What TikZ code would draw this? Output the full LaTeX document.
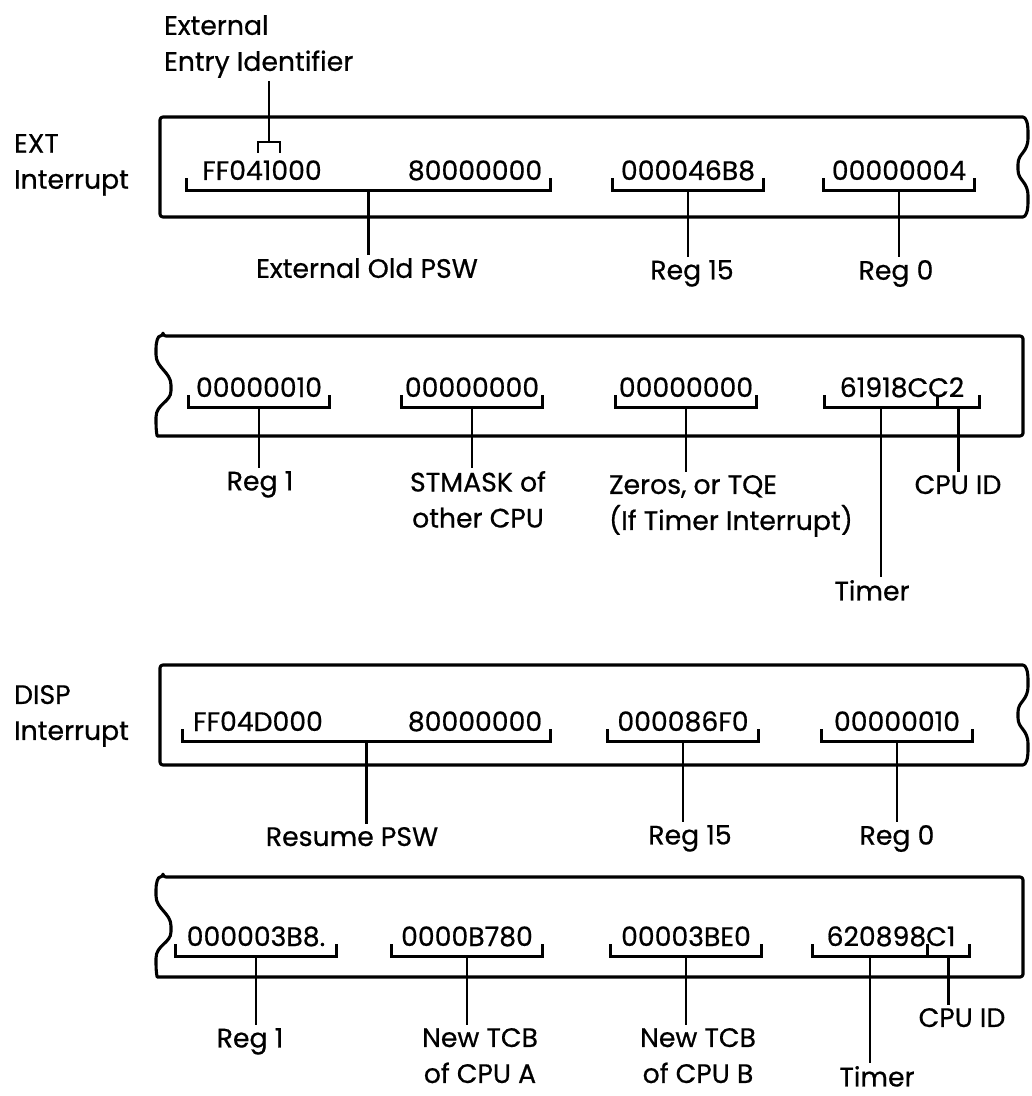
\documentclass[tikz,border=0pt]{standalone}
\usepackage{fontspec}
\setmainfont{Poppins}[FakeBold=0.6]
\usetikzlibrary{positioning, calc}
\tikzset{
	frame/.style={line width=2.2pt, line join=round, rounded corners=2pt},
	hexval/.style={anchor=base, minimum width=3.75cm, inner xsep=0pt, inner ysep=0.25cm, text depth=0pt},
	brkline/.style={line width=2pt},
	stemline/.style={line width=1.9pt},
	lbl/.style={inner sep=2pt, anchor=north, align=center},
}
% bracket under a value node
\newcommand{\valbrk}[1]{\draw[brkline] (#1.south west) ++(0,-12) -- (#1.south west) -- (#1.south east) -- ++(0,-12);}

\begin{document}
\begin{tikzpicture}[x=0.025cm, y=-0.025cm, every node/.style={font=\fontsize{19}{25.6}\selectfont}]
	\useasboundingbox (0,0) rectangle (1031,1096);

	% records torn on the right
	\foreach \t in {117,665}
		\draw[frame] (160,\t) -- (1020,\t) .. controls (1026,\t) and (1028,\t+6) .. (1028,\t+18)
			.. controls (1028,\t+36) and (1018,\t+36) .. (1018,\t+50)
			.. controls (1018,\t+64) and (1028,\t+64) .. (1028,\t+82)
			.. controls (1028,\t+94) and (1026,\t+100) .. (1020,\t+100) -- (160,\t+100) -- cycle;
	% records torn on the left
	\foreach \t in {336,877}
		\draw[frame] (163,\t) -- (1023,\t) -- (1023,\t+100) -- (160,\t+100)
			.. controls (157,\t+100) and (156,\t+94) .. (156,\t+84)
			.. controls (156,\t+68) and (171,\t+66) .. (171,\t+52)
			.. controls (171,\t+36) and (156,\t+32) .. (156,\t+16)
			.. controls (156,\t+5) and (158,\t) .. (163,\t) -- cycle;

	\node[lbl, align=left, anchor=north west] (lext) at (11,131) {EXT\\Interrupt};
	\node[lbl, align=left, anchor=north west] (ldisp) at (11,682) {DISP\\Interrupt};

	% EXT interrupt, first line
	\node[hexval] (ext1) at (262,180) {FF041000};
	\node[hexval] (ext2) at (475,180) {80000000};
	\node[hexval] (ext15) at (688,180) {000046B8};
	\node[hexval] (ext0) at (899,180) {00000004};
	\draw[brkline] (ext1.south west) ++(0,-12) -- (ext1.south west) -- (ext2.south east) -- ++(0,-12);
	\valbrk{ext15} \valbrk{ext0}
	\node[lbl] (lextpsw) at (367,255) {External Old PSW};
	\node[lbl] (lext15) at (692,257) {Reg 15};
	\node[lbl] (lext0) at (896,257) {Reg 0};
	\draw[stemline] ($(ext1.south west)!0.5!(ext2.south east)$) coordinate (extmid) -- (extmid |- lextpsw.north);
	\draw[stemline] (ext15.south) -- (ext15.south |- lext15.north);
	\draw[stemline] (ext0.south) -- (ext0.south |- lext0.north);
	% entry identifier
	\node[lbl, align=left, anchor=north west] (lentry) at (161,12) {External\\Entry Identifier};
	\coordinate (entry) at (269,142);
	\draw[brkline] (258,153) -- (258,142) -- (280,142) -- (280,153);
	\draw[stemline] (entry) -- (entry |- lentry.south);

	% EXT interrupt, second line
	\node[hexval, minimum width=3.5cm] (extr1) at (259,397) {00000010};
	\node[hexval, minimum width=3.5cm] (extmask) at (472,397) {00000000};
	\node[hexval, minimum width=3.5cm] (exttqe) at (686,397) {00000000};
	\node[hexval, minimum width=3.875cm] (exttim) at (902,397) {61918CC2};
	\valbrk{extr1} \valbrk{extmask} \valbrk{exttqe} \valbrk{exttim}
	\coordinate (extcpu) at ($(exttim.south east)+(-42,0)$);
	\draw[brkline] (extcpu) -- ++(0,-12);
	\node[lbl] (lextr1) at (260,468) {Reg 1};
	\node[lbl] (lextmask) at (478,468) {STMASK of\\other CPU};
	\node[lbl, align=left, anchor=north west] (lexttqe) at (606,472) {Zeros, or TQE\\(If Timer Interrupt)};
	\node[lbl] (lextcpu) at (958,472) {CPU ID};
	\node[lbl] (lexttim) at (872,577) {Timer};
	\draw[stemline] (extr1.south) -- (extr1.south |- lextr1.north);
	\draw[stemline] (extmask.south) -- (extmask.south |- lextmask.north);
	\draw[stemline] (exttqe.south) -- (exttqe.south |- lexttqe.north);
	\draw[stemline] ($(exttim.south west)!0.5!(extcpu)$) coordinate (exttimx) -- (exttimx |- lexttim.north);
	\draw[stemline] ($(extcpu)!0.5!(exttim.south east)$) coordinate (extcpux) -- (extcpux |- lextcpu.north);

	% DISP interrupt, first line
	\node[hexval] (disp1) at (258,731) {FF04D000};
	\node[hexval] (disp2) at (475,731) {80000000};
	\node[hexval] (disp15) at (683,731) {000086F0};
	\node[hexval] (disp0) at (897,731) {00000010};
	\draw[brkline] (disp1.south west) ++(0,-12) -- (disp1.south west) -- (disp2.south east) -- ++(0,-12);
	\valbrk{disp15} \valbrk{disp0}
	\node[lbl] (lresume) at (352,824) {Resume PSW};
	\node[lbl] (ldisp15) at (690,822) {Reg 15};
	\node[lbl] (ldisp0) at (897,822) {Reg 0};
	\draw[stemline] ($(disp1.south west)!0.5!(disp2.south east)$) coordinate (dispmid) -- (dispmid |- lresume.north);
	\draw[stemline] (disp15.south) -- (disp15.south |- ldisp15.north);
	\draw[stemline] (disp0.south) -- (disp0.south |- ldisp0.north);

	% DISP interrupt, second line
	\node[hexval, minimum width=4cm] (dispr1) at (256,946) {000003B8.};
	\node[hexval] (disptcba) at (467,946) {0000B780};
	\node[hexval] (disptcbb) at (686,946) {00003BE0};
	\node[hexval, minimum width=3.925cm] (disptim) at (891,946) {620898C1};
	\valbrk{dispr1} \valbrk{disptcba} \valbrk{disptcbb} \valbrk{disptim}
	\coordinate (dispcpu) at ($(disptim.south east)+(-42,0)$);
	\draw[brkline] (dispcpu) -- ++(0,-12);
	\node[lbl] (ldispr1) at (250,1025) {Reg 1};
	\node[lbl] (ldisptcba) at (480,1025) {New TCB\\of CPU A};
	\node[lbl] (ldisptcbb) at (698,1025) {New TCB\\of CPU B};
	\node[lbl] (ldisptim) at (877,1063) {Timer};
	\node[lbl] (ldispcpu) at (962,1005) {CPU ID};
	\draw[stemline] (dispr1.south) -- (dispr1.south |- ldispr1.north);
	\draw[stemline] (disptcba.south) -- (disptcba.south |- ldisptcba.north);
	\draw[stemline] (disptcbb.south) -- (disptcbb.south |- ldisptcbb.north);
	\draw[stemline] ($(disptim.south west)!0.5!(dispcpu)$) coordinate (disptimx) -- (disptimx |- ldisptim.north);
	\draw[stemline] ($(dispcpu)!0.5!(disptim.south east)$) coordinate (dispcpux) -- (dispcpux |- ldispcpu.north);
\end{tikzpicture}
\end{document}
